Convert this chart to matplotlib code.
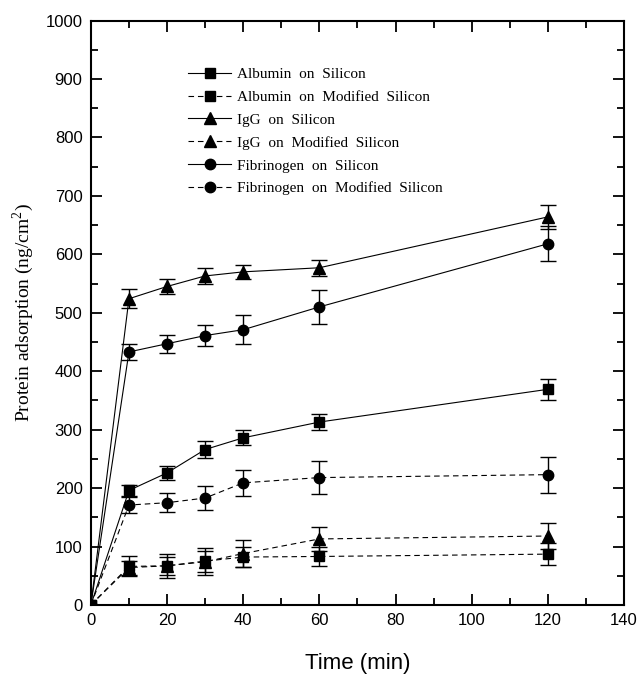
import matplotlib
matplotlib.use('Agg')
import matplotlib.pyplot as plt
from matplotlib.lines import Line2D

# ── data ──────────────────────────────────────────────────────────────────
time = [0, 10, 20, 30, 40, 60, 120]

alb_si = [0, 196, 226, 266, 286, 313, 369]
alb_si_err = [0, 9, 12, 14, 13, 14, 18]
alb_mod = [0, 66, 67, 75, 82, 83, 87]
alb_mod_err = [0, 17, 20, 23, 17, 17, 19]

igg_si = [0, 524, 545, 563, 570, 577, 664]
igg_si_err = [0, 16, 13, 14, 12, 14, 20]
igg_mod = [0, 64, 67, 74, 88, 113, 118]
igg_mod_err = [0, 12, 15, 18, 23, 20, 23]

fib_si = [0, 433, 447, 461, 471, 510, 618]
fib_si_err = [0, 14, 15, 18, 25, 29, 30]
fib_mod = [0, 171, 175, 183, 209, 218, 223]
fib_mod_err = [0, 14, 16, 21, 22, 28, 31]

series = [
    ('Albumin  on  Silicon', alb_si, alb_si_err, 's', '-'),
    ('Albumin  on  Modified  Silicon', alb_mod, alb_mod_err, 's', '--'),
    ('IgG  on  Silicon', igg_si, igg_si_err, '^', '-'),
    ('IgG  on  Modified  Silicon', igg_mod, igg_mod_err, '^', '--'),
    ('Fibrinogen  on  Silicon', fib_si, fib_si_err, 'o', '-'),
    ('Fibrinogen  on  Modified  Silicon', fib_mod, fib_mod_err, 'o', '--'),
]
msizes = {'s': 6.5, '^': 8, 'o': 7.5}

plt.rcParams['mathtext.fontset'] = 'custom'
plt.rcParams['mathtext.rm'] = 'Liberation Serif'

fig = plt.figure(figsize=(6.4, 6.78), dpi=100)
ax = fig.add_axes([0.142, 0.1077, 0.833, 0.862])

handles = []
for label, y, err, mk, ls in series:
    dash = (0, (5, 3.5)) if ls == '--' else '-'
    ax.errorbar(time, y, yerr=err, color='k', marker=mk, markersize=msizes[mk],
                linestyle=dash, linewidth=0.8, elinewidth=1.0, capsize=6,
                capthick=1.0)
    handles.append(Line2D([], [], color='k', marker=mk, markersize=msizes[mk],
                          linestyle=dash, linewidth=0.8, label=label))

ax.set_xlim(0, 140)
ax.set_ylim(0, 1000)
ax.set_xticks(range(0, 141, 20))
ax.set_xticks(range(10, 141, 20), minor=True)
ax.set_yticks(range(0, 1001, 100))
ax.set_yticks(range(50, 1000, 100), minor=True)
ax.tick_params(which='both', direction='in', top=True, right=True,
               width=1.3, labelsize=12, pad=6)
ax.tick_params(which='major', length=8)
ax.tick_params(which='minor', length=5)
for lab in ax.get_xticklabels() + ax.get_yticklabels():
    lab.set_family('Liberation Sans')
for sp in ax.spines.values():
    sp.set_linewidth(1.5)

ax.set_xlabel('Time (min)', family='Liberation Sans', fontsize=16, labelpad=18)
ax.set_ylabel('Protein adsorption (ng/cm$^2$)', family='Liberation Serif',
              fontsize=14, labelpad=7)

ax.legend(handles=handles, loc='upper left', bbox_to_anchor=(0.183, 0.92),
          frameon=False, prop={'family': 'Liberation Serif', 'size': 11},
          numpoints=1, handlelength=2.8, handletextpad=0.35, labelspacing=0.6,
          borderpad=0, borderaxespad=0)

fig.savefig('out.png', dpi=100)
